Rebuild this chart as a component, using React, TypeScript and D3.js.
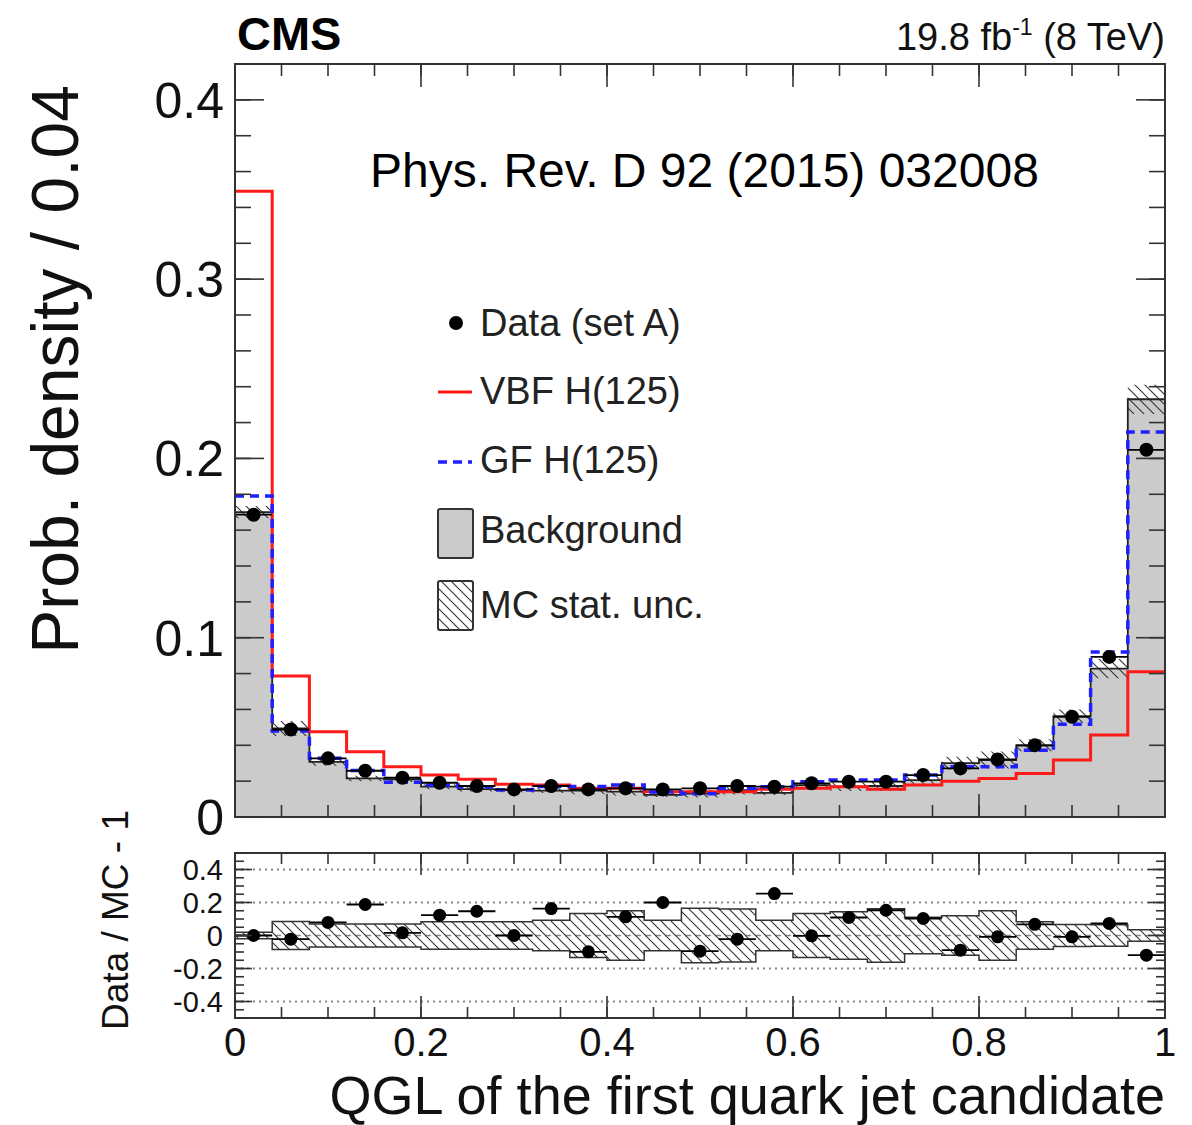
import React from 'react';
import * as d3 from 'd3';

// 25 bins of width 0.04 in QGL
const binWidth = 0.04;
const nBins = 25;

const background = [0.170, 0.0494, 0.0308, 0.0215, 0.021, 0.0169, 0.0156, 0.015, 0.0147, 0.0147, 0.0141, 0.0123, 0.013, 0.015, 0.0135, 0.0178, 0.0169, 0.0173, 0.0206, 0.030, 0.0318, 0.040, 0.0563, 0.0828, 0.233];
const dataSetA = [0.1686, 0.0488, 0.0327, 0.0258, 0.0219, 0.0191, 0.0173, 0.0154, 0.0173, 0.0154, 0.016, 0.0154, 0.016, 0.0173, 0.0169, 0.0188, 0.0197, 0.0197, 0.0234, 0.0271, 0.0321, 0.040, 0.0559, 0.0893, 0.2048];
const vbf = [0.349, 0.0786, 0.0475, 0.0364, 0.028, 0.0234, 0.021, 0.0182, 0.0178, 0.016, 0.016, 0.0141, 0.0141, 0.0141, 0.0155, 0.016, 0.0169, 0.0155, 0.0178, 0.020, 0.0215, 0.0243, 0.0318, 0.0457, 0.081];
const gf = [0.179, 0.048, 0.0327, 0.026, 0.0194, 0.0178, 0.0169, 0.015, 0.017, 0.017, 0.0178, 0.014, 0.013, 0.016, 0.0169, 0.0197, 0.0206, 0.0206, 0.0234, 0.028, 0.028, 0.0373, 0.0518, 0.092, 0.2147];
// relative MC stat. uncertainty
const mcUnc = [0.02, 0.085, 0.07, 0.07, 0.07, 0.084, 0.084, 0.084, 0.093, 0.133, 0.15, 0.092, 0.165, 0.16, 0.092, 0.133, 0.144, 0.162, 0.11, 0.12, 0.15, 0.084, 0.066, 0.065, 0.035];
// Data / MC - 1
const ratio = [0.0, -0.022, 0.079, 0.188, 0.016, 0.123, 0.147, 0.0, 0.163, -0.099, 0.113, 0.2, -0.095, -0.022, 0.254, -0.002, 0.109, 0.153, 0.103, -0.089, -0.008, 0.068, -0.008, 0.073, -0.119];

const xTickLabels = ['0', '0.2', '0.4', '0.6', '0.8', '1'];
const mainTickLabels = ['0', '0.1', '0.2', '0.3', '0.4'];
const ratioTickLabels = ['-0.4', '-0.2', '0', '0.2', '0.4'];

const legendEntries = ['Data (set A)', 'VBF H(125)', 'GF H(125)', 'Background', 'MC stat. unc.'];

const FONT = '"Liberation Sans", Arial, Helvetica, sans-serif';
const FRAME = '#333';

const L = 235, R = 1165;
const mainTop = 64, mainBot = 817;
const ratTop = 853, ratBot = 1018;

const x = d3.scaleLinear().domain([0, 1]).range([L, R]);
const yMain = d3.scaleLinear().domain([0, 0.42]).range([mainBot, mainTop]);
const yRat = d3.scaleLinear().domain([-0.5, 0.5]).range([ratBot, ratTop]);

const lo = (i: number) => i * binWidth;
const hi = (i: number) => (i + 1) * binWidth;

// step series: one point per bin edge, last value repeated at the end
const steps = (vals: number[]) => [...vals.map((v, i) => [lo(i), v]), [nBins * binWidth, vals[vals.length - 1]]];

const stepLine = (y: d3.ScaleLinear<number, number>) =>
  d3.line<number[]>().x((d) => x(d[0])).y((d) => y(d[1])).curve(d3.curveStepAfter);

const bandArea = (y: d3.ScaleLinear<number, number>, lowV: number[], highV: number[]) => {
  const pts = [...lowV.map((v, i) => [lo(i), v, highV[i]]), [1, lowV[nBins - 1], highV[nBins - 1]]];
  return d3.area<number[]>().x((d) => x(d[0])).y0((d) => y(d[1])).y1((d) => y(d[2])).curve(d3.curveStepAfter)(pts);
};

const Ticks = ({ scale, vals, side, len, pos }: any) => (
  <g stroke={FRAME} strokeWidth={1.6}>
    {vals.map((v: number, i: number) => {
      const p = scale(v);
      if (side === 'left') return <line key={i} x1={L} x2={L + len} y1={p} y2={p} />;
      if (side === 'right') return <line key={i} x1={R} x2={R - len} y1={p} y2={p} />;
      if (side === 'top') return <line key={i} x1={p} x2={p} y1={pos} y2={pos + len} />;
      return <line key={i} x1={p} x2={p} y1={pos} y2={pos - len} />;
    })}
  </g>
);

export default function App() {
  const xMajor = d3.range(0, 1.0001, 0.2);
  const xMinor = d3.range(0, 1.0001, 0.05);
  const mainMajor = d3.range(0, 0.4001, 0.1);
  const mainMinor = d3.range(0, 0.4201, 0.02);
  const ratMajor = d3.range(-0.4, 0.4001, 0.2);
  const ratMinor = d3.range(-0.5, 0.5001, 0.05);

  const bgLow = background.map((b, i) => b * (1 - mcUnc[i]));
  const bgHigh = background.map((b, i) => b * (1 + mcUnc[i]));
  const ratLow = mcUnc.map((u) => -u);

  const bgFill = d3.area<number[]>().x((d) => x(d[0])).y0(yMain(0)).y1((d) => yMain(d[1])).curve(d3.curveStepAfter);

  return (
    <svg width={1192} height={1125} style={{ display: 'block', background: '#fff', position: 'absolute', left: 0, top: 0 }} fontFamily={FONT}>
      <defs>
        <pattern id="hatch" patternUnits="userSpaceOnUse" width={10} height={10}>
          <path d="M0,0 L10,10 M-5,5 L5,15 M5,-5 L15,5" stroke="#333" strokeWidth={1.1} />
        </pattern>
        <clipPath id="clipMain"><rect x={L} y={mainTop} width={R - L} height={mainBot - mainTop} /></clipPath>
        <clipPath id="clipRat"><rect x={L} y={ratTop} width={R - L} height={ratBot - ratTop} /></clipPath>
      </defs>

      {/* main panel */}
      <g clipPath="url(#clipMain)">
        <path d={bgFill(steps(background)) || ''} fill="#cbcbcb" />
        <path d={bandArea(yMain, bgLow, bgHigh) || ''} fill="url(#hatch)" />
        <path d={stepLine(yMain)(steps(background)) || ''} fill="none" stroke="#222" strokeWidth={1.8} />
        <path d={stepLine(yMain)(steps(vbf)) || ''} fill="none" stroke="#ff1a1a" strokeWidth={3} />
        <path d={stepLine(yMain)(steps(gf)) || ''} fill="none" stroke="#1f1fff" strokeWidth={3.5} strokeDasharray="9,6" />
        {dataSetA.map((v, i) => (
          <g key={i}>
            <line x1={x(lo(i))} x2={x(hi(i))} y1={yMain(v)} y2={yMain(v)} stroke="#000" strokeWidth={1.8} />
            <circle cx={x(lo(i) + binWidth / 2)} cy={yMain(v)} r={7} fill="#000" />
          </g>
        ))}
      </g>
      <rect x={L} y={mainTop} width={R - L} height={mainBot - mainTop} fill="none" stroke={FRAME} strokeWidth={2} />
      <Ticks scale={yMain} vals={mainMajor} side="left" len={29} />
      <Ticks scale={yMain} vals={mainMinor} side="left" len={16} />
      <Ticks scale={yMain} vals={mainMajor} side="right" len={29} />
      <Ticks scale={yMain} vals={mainMinor} side="right" len={16} />
      <Ticks scale={x} vals={xMajor} side="top" len={23} pos={mainTop} />
      <Ticks scale={x} vals={xMinor} side="top" len={12} pos={mainTop} />
      <Ticks scale={x} vals={xMajor} side="bottom" len={23} pos={mainBot} />
      <Ticks scale={x} vals={xMinor} side="bottom" len={12} pos={mainBot} />
      {mainMajor.map((v, i) => (
        <text key={i} x={224} y={yMain(v)} dy="0.36em" textAnchor="end" fontSize={50} fill="#111">{mainTickLabels[i]}</text>
      ))}

      {/* legend */}
      <g fontSize={38} fill="#222">
        <circle cx={456} cy={323} r={7} fill="#000" />
        <line x1={438} x2={472} y1={392} y2={392} stroke="#ff1a1a" strokeWidth={3} />
        <line x1={438} x2={472} y1={462} y2={462} stroke="#1f1fff" strokeWidth={3.5} strokeDasharray="9,6" />
        <rect x={438} y={509} width={35} height={49} rx={2} fill="#cbcbcb" stroke="#333" strokeWidth={2} />
        <rect x={438} y={581} width={35} height={49} rx={2} fill="url(#hatch)" stroke="#333" strokeWidth={2} />
        {legendEntries.map((t, i) => (
          <text key={i} x={480} y={[336, 404, 473, 543, 618][i]}>{t}</text>
        ))}
      </g>

      <text x={370} y={187} fontSize={48} fill="#000">Phys. Rev. D 92 (2015) 032008</text>
      <text x={237} y={50} fontSize={47} fontWeight="bold" fill="#000">CMS</text>
      <text x={1165} y={50} textAnchor="end" fontSize={38} fill="#111">
        19.8 fb<tspan fontSize={23} dy={-15}>-1</tspan><tspan dy={15}> (8 TeV)</tspan>
      </text>
      <text transform="translate(78,85) rotate(-90)" textAnchor="end" fontSize={66} fill="#111">Prob. density / 0.04</text>

      {/* ratio panel */}
      <g clipPath="url(#clipRat)">
        {ratMajor.map((v, i) => (
          Math.abs(v) < 1e-9 ? (
            <line key={i} x1={L} x2={R} y1={yRat(v)} y2={yRat(v)} stroke="#888" strokeWidth={1.5} strokeDasharray="6,4" />
          ) : (
            <line key={i} x1={L} x2={R} y1={yRat(v)} y2={yRat(v)} stroke="#888" strokeWidth={2} strokeDasharray="2,4" />
          )
        ))}
        <path d={bandArea(yRat, ratLow, mcUnc) || ''} fill="url(#hatch)" stroke="#333" strokeWidth={1.5} />
        {ratio.map((v, i) => (
          <g key={i}>
            <line x1={x(lo(i))} x2={x(hi(i))} y1={yRat(v)} y2={yRat(v)} stroke="#000" strokeWidth={1.8} />
            <circle cx={x(lo(i) + binWidth / 2)} cy={yRat(v)} r={6.5} fill="#000" />
          </g>
        ))}
      </g>
      <rect x={L} y={ratTop} width={R - L} height={ratBot - ratTop} fill="none" stroke={FRAME} strokeWidth={2} />
      <Ticks scale={yRat} vals={ratMajor} side="left" len={17} />
      <Ticks scale={yRat} vals={ratMinor} side="left" len={9} />
      <Ticks scale={yRat} vals={ratMajor} side="right" len={17} />
      <Ticks scale={yRat} vals={ratMinor} side="right" len={9} />
      <Ticks scale={x} vals={xMajor} side="top" len={22} pos={ratTop} />
      <Ticks scale={x} vals={xMinor} side="top" len={11} pos={ratTop} />
      <Ticks scale={x} vals={xMajor} side="bottom" len={22} pos={ratBot} />
      <Ticks scale={x} vals={xMinor} side="bottom" len={11} pos={ratBot} />
      {ratMajor.map((v, i) => (
        <text key={i} x={223} y={yRat(v)} dy="0.36em" textAnchor="end" fontSize={29} fill="#111">{ratioTickLabels[i]}</text>
      ))}
      <text transform="translate(128,1030) rotate(-90)" fontSize={37} fill="#111">Data / MC - 1</text>

      {xMajor.map((v, i) => (
        <text key={i} x={x(v)} y={1056} textAnchor="middle" fontSize={40} fill="#111">{xTickLabels[i]}</text>
      ))}
      <text x={R} y={1114} textAnchor="end" fontSize={54} fill="#111">QGL of the first quark jet candidate</text>
    </svg>
  );
}
